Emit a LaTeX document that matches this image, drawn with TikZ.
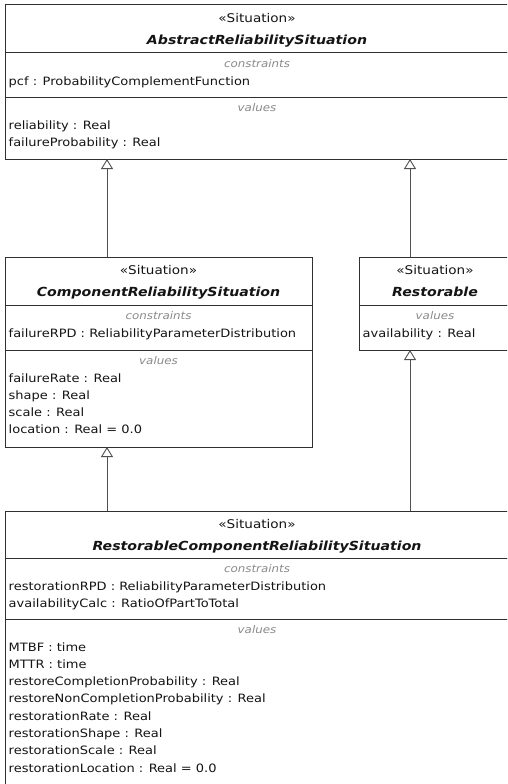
\documentclass[tikz,border=0pt]{standalone}
\usepackage{fontspec}
\setmainfont{DejaVu Sans}[FakeStretch=1.13]
\usepackage{tikz}
\usetikzlibrary{calc, arrows.meta, positioning}
\usepackage{xcolor}
\definecolor{umlline}{HTML}{303030}
\definecolor{genline}{HTML}{505050}
\definecolor{umltext}{HTML}{141414}
\definecolor{umlgray}{HTML}{8A8A8A}

\tikzset{
  compart/.style={draw=umlline, line width=1pt, fill=white, anchor=north west, inner sep=0pt, outer sep=0pt},
  stereo/.style={anchor=base, text=umltext, inner sep=0pt, font=\fontsize{12}{14}\selectfont},
  classname/.style={anchor=base, text=umltext, inner sep=0pt, font=\fontsize{12.5}{14}\selectfont\bfseries\itshape},
  comptitle/.style={anchor=base, text=umlgray, inner sep=0pt, font=\fontsize{10.5}{12}\selectfont\itshape},
  attr/.style={anchor=base west, text=umltext, inner sep=0pt},
  gen/.style={draw=genline, line width=0.9pt, -{Triangle[open, width=12pt, length=10pt]}}
}

% header of a class: node, stereotype, name
\newcommand{\umlheader}[3]{%
  \node[stereo] at ($(#1.north)+(0,17.5)$) {«#2»};
  \node[classname] at ($(#1.north)+(0,39.5)$) {#3};}
% compartment: node, title, lines
\newcommand{\umlcompart}[3]{%
  \node[comptitle] at ($(#1.north)+(0,14.5)$) {#2};
  \foreach \ln [count=\i from 0] in {#3}
    \node[attr] at ($(#1.north west)+(3.5,32+17.3*\i)$) {\ln};}

\begin{document}
\begin{tikzpicture}[x=1pt, y=-1pt, font=\fontsize{11.5}{13}\selectfont]
        \useasboundingbox (0,0) rectangle (507,784);
        \fill[white] (0,0) rectangle (507,784);
        \clip (0,0) rectangle (507,784);

        % --- AbstractReliabilitySituation ---
        \node[compart, minimum width=504pt, minimum height=48pt] (arsHead) at (5,5) {};
        \node[compart, minimum width=504pt, minimum height=44pt] (arsCons) at (arsHead.south west) {};
        \node[compart, minimum width=504pt, minimum height=62pt] (arsVals) at (arsCons.south west) {};
        \umlheader{arsHead}{Situation}{AbstractReliabilitySituation}
        \umlcompart{arsCons}{constraints}{pcf : ProbabilityComplementFunction}
        \umlcompart{arsVals}{values}{reliability : Real, failureProbability : Real}

        % --- ComponentReliabilitySituation ---
        \node[compart, minimum width=307pt, minimum height=48pt] (crsHead) at (5,257) {};
        \node[compart, minimum width=307pt, minimum height=45pt] (crsCons) at (crsHead.south west) {};
        \node[compart, minimum width=307pt, minimum height=97pt] (crsVals) at (crsCons.south west) {};
        \umlheader{crsHead}{Situation}{ComponentReliabilitySituation}
        \umlcompart{crsCons}{constraints}{failureRPD : ReliabilityParameterDistribution}
        \umlcompart{crsVals}{values}{failureRate : Real, shape : Real, scale : Real, location : Real = 0.0}

        % --- Restorable ---
        \node[compart, minimum width=152pt, minimum height=48pt] (rstHead) at (359,257) {};
        \node[compart, minimum width=152pt, minimum height=45pt] (rstVals) at (rstHead.south west) {};
        \umlheader{rstHead}{Situation}{Restorable}
        \umlcompart{rstVals}{values}{availability : Real}

        % --- RestorableComponentReliabilitySituation ---
        \node[compart, minimum width=504pt, minimum height=47pt] (rcrsHead) at (5,511) {};
        \node[compart, minimum width=504pt, minimum height=61pt] (rcrsCons) at (rcrsHead.south west) {};
        \node[compart, minimum width=504pt, minimum height=175pt] (rcrsVals) at (rcrsCons.south west) {};
        \umlheader{rcrsHead}{Situation}{RestorableComponentReliabilitySituation}
        \umlcompart{rcrsCons}{constraints}{restorationRPD : ReliabilityParameterDistribution,
          availabilityCalc : RatioOfPartToTotal}
        \umlcompart{rcrsVals}{values}{MTBF : time, MTTR : time,
          restoreCompletionProbability : Real, restoreNonCompletionProbability : Real,
          restorationRate : Real, restorationShape : Real, restorationScale : Real,
          restorationLocation : Real = 0.0}

        % --- generalizations ---
        \coordinate (genL) at (107,0);
        \coordinate (genR) at (410,0);
        \draw[gen] (crsHead.north -| genL) -- (arsVals.south -| genL);
        \draw[gen] (rstHead.north -| genR) -- (arsVals.south -| genR);
        \draw[gen] (rcrsHead.north -| genL) -- (crsVals.south -| genL);
        \draw[gen] (rcrsHead.north -| genR) -- (rstVals.south -| genR);
      \end{tikzpicture}
\end{document}
